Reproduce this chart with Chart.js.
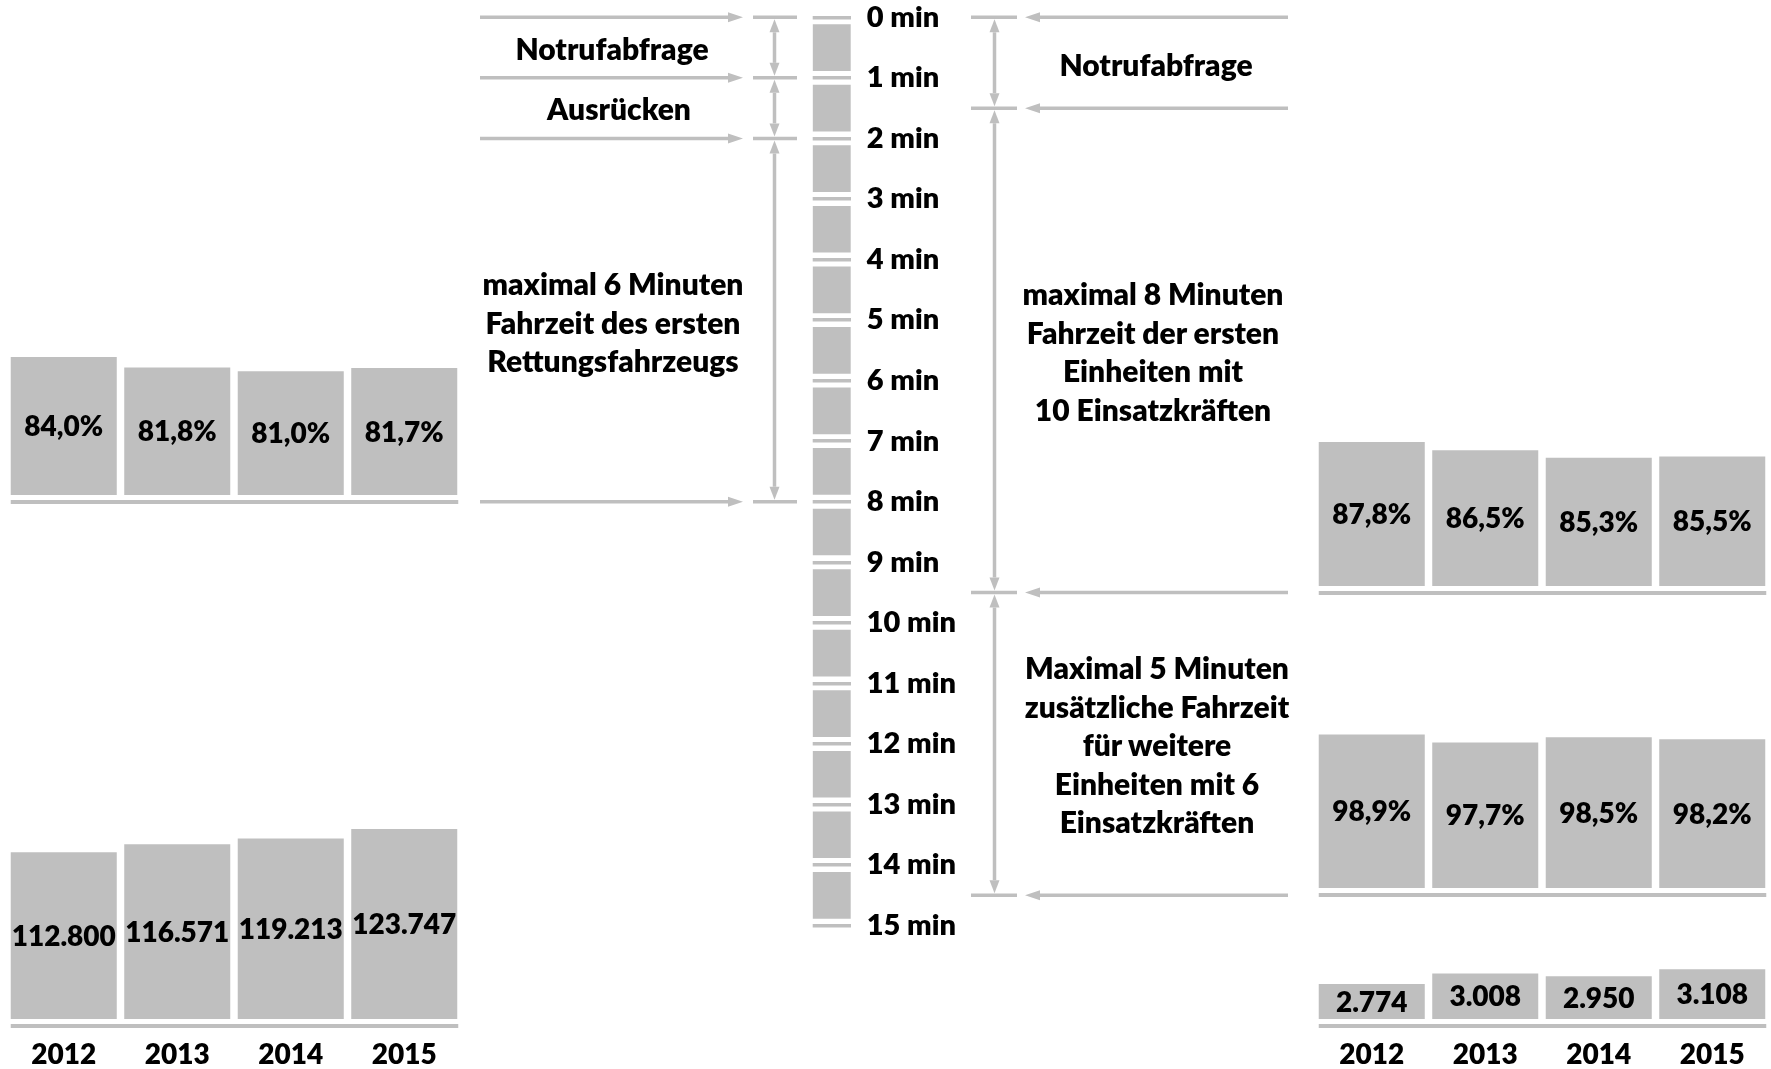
<!DOCTYPE html>
<html><head><meta charset="utf-8">
<script src="https://cdn.jsdelivr.net/npm/chart.js@4.4.0/dist/chart.umd.min.js"></script>
<style>
html,body{margin:0;padding:0;background:#fff;}
#wrap{position:relative;width:1771px;height:1069px;overflow:hidden;background:#fff;font-family:Lato,"Open Sans",sans-serif;font-weight:800;}
canvas{position:absolute;}
.t{position:absolute;width:420px;text-align:center;font-size:30px;line-height:38.5px;color:#000;white-space:nowrap;}
</style></head><body>
<div id="wrap">
<canvas id="cMin" width="1771" height="1069" style="left:0;top:0"></canvas>
<canvas id="cLT" width="454" height="167" style="left:7px;top:340px"></canvas>
<canvas id="cLB" width="454" height="249" style="left:7px;top:820px"></canvas>
<canvas id="cRT" width="454" height="178" style="left:1315px;top:420px"></canvas>
<canvas id="cRM" width="454" height="180" style="left:1315px;top:720px"></canvas>
<canvas id="cRB" width="454" height="129" style="left:1315px;top:940px"></canvas>

<div class="t" style="left:402px;top:29px">Notrufabfrage</div>
<div class="t" style="left:409px;top:89px">Ausrücken</div>
<div class="t" style="left:403px;top:264px">maximal 6 Minuten<br>Fahrzeit des ersten<br>Rettungsfahrzeugs</div>
<div class="t" style="left:946px;top:45px">Notrufabfrage</div>
<div class="t" style="left:943px;top:274px">maximal 8 Minuten<br>Fahrzeit der ersten<br>Einheiten mit<br>10 Einsatzkräften</div>
<div class="t" style="left:947px;top:648px">Maximal 5 Minuten<br>zusätzliche Fahrzeit<br>für weitere<br>Einheiten mit 6<br>Einsatzkräften</div>
</div>
<script>
// ---------- data ----------
const years = ['2012', '2013', '2014', '2015'];
const rettungQuote6Min = [84.0, 81.8, 81.0, 81.7];          // left top (%)
const rettungEinsaetze = [112800, 116571, 119213, 123747];   // left bottom
const brandQuote8Min = [87.8, 86.5, 85.3, 85.5];             // right top (%)
const brandQuote13Min = [98.9, 97.7, 98.5, 98.2];            // right middle (%)
const brandEinsaetze = [2774, 3008, 2950, 3108];             // right bottom
const minuteTicks = [0, 1, 2, 3, 4, 5, 6, 7, 8, 9, 10, 11, 12, 13, 14, 15];
const leftMarks = [0, 1, 2, 8];        // minutes marked by left arrows
const rightMarks = [0, 1.5, 9.5, 14.5]; // minutes marked by right arrows

const GRAY = '#bfbfbf';
const W = 800;
const FONT = {family: 'Lato', weight: W, size: 28};

function fmtPct(v) { return v.toFixed(1).replace('.', ',') + '%'; }
function fmtInt(v) { return String(Math.round(v)).replace(/\B(?=(\d{3})+(?!\d))/g, '.'); }

// ---------- bar decoration plugin (labels + base line) ----------
const barDeco = {
  id: 'barDeco',
  afterDatasetsDraw(chart, args, opts) {
    const ctx = chart.ctx;
    const els = chart.getDatasetMeta(0).data;
    const vals = chart.data.datasets[0].data;
    const bottom = chart.chartArea.bottom;
    ctx.save();
    const f = els[0], l = els[els.length - 1];
    const x0 = f.x - f.width / 2, x1 = l.x + l.width / 2 + 1;
    ctx.fillStyle = GRAY;
    ctx.fillRect(x0, bottom + 5, x1 - x0, 4);
    ctx.fillStyle = '#000';
    ctx.font = W + ' 28px Lato';
    ctx.textAlign = 'center';
    ctx.textBaseline = 'middle';
    els.forEach((el, i) => {
      const txt = opts.kind === 'pct' ? fmtPct(vals[i]) : fmtInt(vals[i]);
      ctx.fillText(txt, el.x, (el.y + Math.min(el.base, bottom)) / 2 + 1);
    });
    ctx.restore();
  }
};

function barChart(id, values, min, max, kind, showYears) {
  new Chart(document.getElementById(id), {
    type: 'bar',
    data: {labels: years, datasets: [{data: values, backgroundColor: GRAY, barPercentage: 0.934, categoryPercentage: 1}]},
    options: {
      responsive: false, animation: false, devicePixelRatio: 1,
      layout: {padding: {left: 0, right: 0, top: 0, bottom: showYears ? 0 : 12}},
      plugins: {legend: {display: false}, tooltip: {enabled: false}, barDeco: {kind: kind}},
      scales: {
        x: showYears ? {
          display: true, grid: {display: false, drawTicks: false}, border: {display: false},
          afterFit(s) { s.height = 50; },
          ticks: {color: '#000', font: FONT, padding: 19, maxRotation: 0, autoSkip: false}
        } : {display: false},
        y: {display: false, min: min, max: max}
      }
    },
    plugins: [barDeco]
  });
}

barChart('cLT', rettungQuote6Min, 54.88, 87.61, 'pct', false);
barChart('cLB', rettungEinsaetze, 34133, 127987, 'int', true);
barChart('cRT', brandQuote8Min, 64.875, 91.295, 'pct', false);
barChart('cRM', brandQuote13Min, 75.35, 101.14, 'pct', false);
barChart('cRB', brandEinsaetze, 1980, 3769, 'int', true);

// ---------- minute scale with arrows ----------
function hArrow(ctx, xFrom, xTip, y) {
  const dir = Math.sign(xTip - xFrom), hl = 15, hw = 5;
  ctx.beginPath(); ctx.moveTo(xFrom, y); ctx.lineTo(xTip - dir * hl, y); ctx.stroke();
  ctx.beginPath(); ctx.moveTo(xTip, y); ctx.lineTo(xTip - dir * hl, y - hw); ctx.lineTo(xTip - dir * hl, y + hw); ctx.closePath(); ctx.fill();
}
function vDouble(ctx, x, yA, yB) {
  const hl = 13, hw = 5;
  const a = yA + 2, b = yB - 2;
  ctx.beginPath(); ctx.moveTo(x, a + hl); ctx.lineTo(x, b - hl); ctx.stroke();
  ctx.beginPath(); ctx.moveTo(x, a); ctx.lineTo(x - hw, a + hl); ctx.lineTo(x + hw, a + hl); ctx.closePath(); ctx.fill();
  ctx.beginPath(); ctx.moveTo(x, b); ctx.lineTo(x - hw, b - hl); ctx.lineTo(x + hw, b - hl); ctx.closePath(); ctx.fill();
}
const arrowPlugin = {
  id: 'arrows',
  afterDraw(chart) {
    const ctx = chart.ctx, ys = chart.scales.y;
    ctx.save();
    ctx.strokeStyle = GRAY; ctx.fillStyle = GRAY; ctx.lineWidth = 3.5; ctx.lineCap = 'butt';
    // left side
    leftMarks.forEach(m => {
      const y = ys.getPixelForValue(m);
      hArrow(ctx, 480, 743, y);
      ctx.beginPath(); ctx.moveTo(753, y); ctx.lineTo(797, y); ctx.stroke();
    });
    for (let i = 0; i < leftMarks.length - 1; i++) {
      vDouble(ctx, 774.5, ys.getPixelForValue(leftMarks[i]), ys.getPixelForValue(leftMarks[i + 1]));
    }
    // right side
    rightMarks.forEach(m => {
      const y = ys.getPixelForValue(m);
      hArrow(ctx, 1288, 1025, y);
      ctx.beginPath(); ctx.moveTo(971, y); ctx.lineTo(1017, y); ctx.stroke();
    });
    for (let i = 0; i < rightMarks.length - 1; i++) {
      vDouble(ctx, 994.5, ys.getPixelForValue(rightMarks[i]), ys.getPixelForValue(rightMarks[i + 1]));
    }
    ctx.restore();
  }
};

const blocks = minuteTicks.slice(0, -1).map(m => [m + 0.12, m + 0.88]);
const AXW = 150;
new Chart(document.getElementById('cMin'), {
  type: 'bar',
  data: {
    labels: ['Minuten'],
    datasets: blocks.map(b => ({data: [b], backgroundColor: GRAY, barPercentage: 1, categoryPercentage: 1, grouped: false}))
  },
  options: {
    responsive: false, animation: false, devicePixelRatio: 1,
    layout: {padding: {left: 812.7, top: 17.3, right: 1771 - 850.7 - AXW, bottom: 1069 - 925.6}},
    plugins: {legend: {display: false}, tooltip: {enabled: false}},
    scales: {
      x: {display: false},
      y: {
        position: 'right', reverse: true, min: minuteTicks[0], max: minuteTicks[minuteTicks.length - 1],
        afterFit(s) { s.width = AXW; s.paddingTop = 0; s.paddingBottom = 0; },
        afterBuildTicks(s) { s.ticks = minuteTicks.map(v => ({value: v})); },
        grid: {color: GRAY, lineWidth: 3.5, drawTicks: false},
        border: {display: false},
        ticks: {padding: 16, color: '#000', font: {family: 'Lato', weight: W, size: 29}, autoSkip: false, callback: v => v + ' min'}
      }
    }
  },
  plugins: [arrowPlugin]
});
</script>
</body></html>
